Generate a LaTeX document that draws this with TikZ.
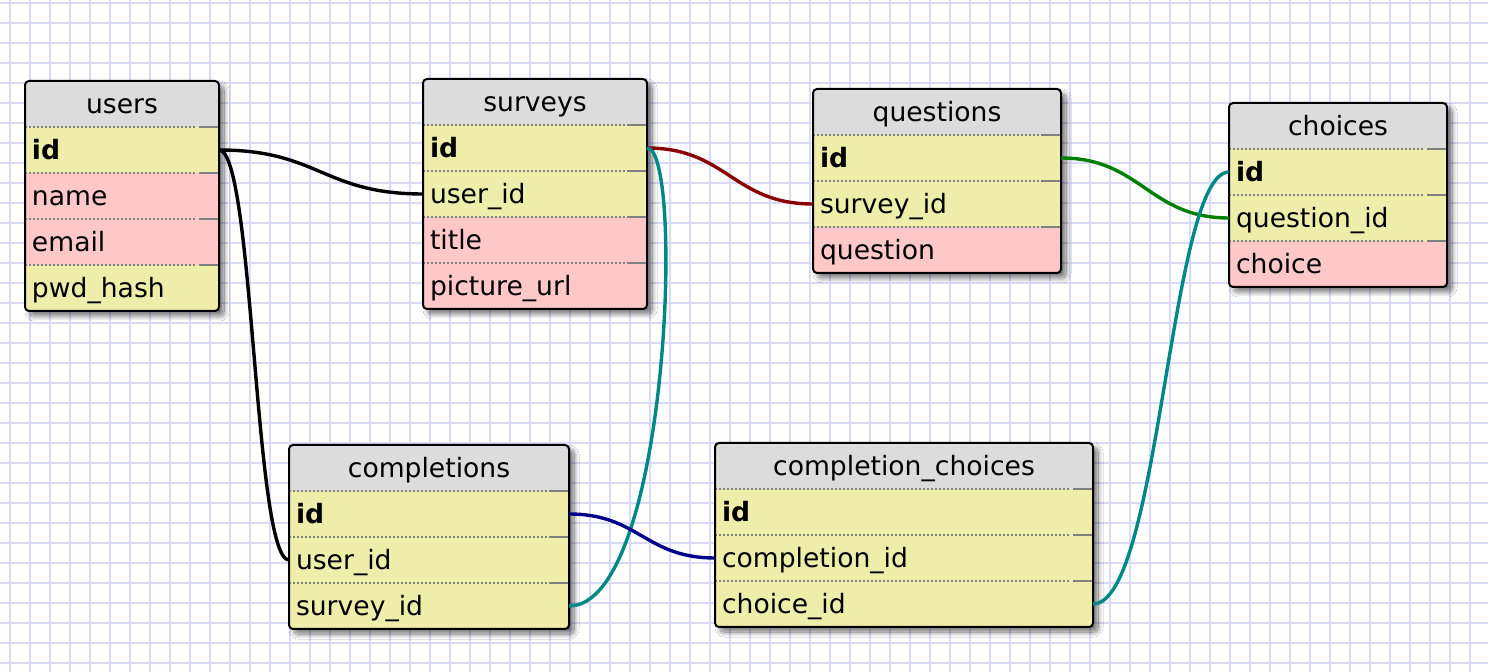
\documentclass[tikz,border=0pt]{standalone}
\usepackage{fontspec}
\setmainfont{DejaVu Sans}
\usetikzlibrary{shadows.blur}
\definecolor{gridc}{RGB}{218,218,245}
\definecolor{hdrc}{RGB}{220,220,220}
\definecolor{keyc}{RGB}{238,238,170}
\definecolor{valc}{RGB}{255,200,200}
\definecolor{sepc}{RGB}{128,128,128}
\definecolor{tealc}{RGB}{0,136,136}
\definecolor{redc}{RGB}{139,0,0}
\definecolor{greenc}{RGB}{0,128,0}
\definecolor{navyc}{RGB}{0,0,139}
\tikzset{
  hdr/.style={anchor=north west, fill=hdrc, minimum height=23pt, inner sep=0pt, outer sep=0pt,
    font=\fontsize{13.3pt}{15pt}\selectfont, text height=9.6pt, text depth=0pt},
  fld/.style={anchor=north west, minimum height=23pt, inner xsep=3.5pt, inner ysep=0pt, outer sep=0pt,
    align=left, font=\fontsize{13.3pt}{15pt}\selectfont, text height=9.8pt, text depth=0pt},
  sepdot/.style={sepc, line width=0.8pt, dash pattern=on 1pt off 1pt},
  sepsolid/.style={sepc, line width=0.8pt},
  conn/.style={line width=1.7pt},
  gridline/.style={gridc, line width=0.7pt}
}
\newcommand\dbtable[7]{%
  \pgfmathsetmacro\dbbot{#3+46*(#5+1)}%
  \pgfmathsetmacro\dbright{#2+#4}%
  \pgfmathsetlengthmacro\dbw{#4*0.5pt}%
  \pgfmathsetlengthmacro\dbtw{#4*0.5pt-7pt}%
  \fill[white, rounded corners=2pt, blur shadow={shadow xshift=2.5pt, shadow yshift=-2.5pt, shadow blur radius=2.5pt, shadow blur steps=20, shadow opacity=55}] (#2,#3) rectangle (\dbright,\dbbot);
  \begin{scope}
    \clip[rounded corners=2pt] (#2,#3) rectangle (\dbright,\dbbot);
    \node[hdr, minimum width=\dbw] (#1) at (#2,#3) {#6};
    \foreach \fkey/\ftxt/\fcol [count=\i] in {#7} {
      \node[fld, fill=\fcol, text width=\dbtw] (#1-\fkey) at (#2,#3+46*\i) {\ftxt};
    }
    \foreach \i in {1,...,#5} {
      \draw[sepdot] (#2,#3+46*\i) -- (\dbright-22,#3+46*\i);
      \draw[sepsolid] (\dbright-20,#3+46*\i) -- (\dbright,#3+46*\i);
    }
  \end{scope}
  \draw[line width=1pt, rounded corners=2pt] (#2,#3) rectangle (\dbright,\dbbot);
}
\begin{document}
\begin{tikzpicture}[x=0.5pt,y=-0.5pt]
\useasboundingbox (0,0) rectangle (1488,672);
\fill[white] (0,0) rectangle (1488,672);
\foreach \gx in {10,30,...,1490} \draw[gridline] (\gx,0) -- (\gx,672);
\foreach \gy in {3,23,...,672} \draw[gridline] (0,\gy) -- (1488,\gy);

\dbtable{users}{25}{81}{194}{4}{users}{id/\textbf{id}/keyc, name/name/valc, email/email/valc, pwdhash/pwd\_hash/keyc}
\dbtable{surveys}{423}{79}{224}{4}{surveys}{id/\textbf{id}/keyc, userid/user\_id/keyc, title/title/valc, pictureurl/picture\_url/valc}
\dbtable{questions}{813}{89}{248}{3}{questions}{id/\textbf{id}/keyc, surveyid/survey\_id/keyc, question/question/valc}
\dbtable{choices}{1229}{103}{218}{3}{choices}{id/\textbf{id}/keyc, questionid/question\_id/keyc, choice/choice/valc}
\dbtable{completions}{289}{445}{280}{3}{completions}{id/\textbf{id}/keyc, userid/user\_id/keyc, surveyid/survey\_id/keyc}
\dbtable{compchoices}{715}{443}{378}{3}{completion\_choices}{id/\textbf{id}/keyc, completionid/completion\_id/keyc, choiceid/choice\_id/keyc}

\draw[conn, black] (users-id.east) .. controls +(100,0) and +(-100,0) .. (surveys-userid.west);
\draw[conn, black] (users-id.east) .. controls +(35,0) and +(-35,0) .. (completions-userid.west);
\draw[conn, redc] (surveys-id.east) .. controls +(80,0) and +(-80,0) .. (questions-surveyid.west);
\draw[conn, tealc] (surveys-id.east) .. controls +(38,0) and +(100,0) .. (completions-surveyid.east);
\draw[conn, greenc] (questions-id.east) .. controls +(80,0) and +(-80,0) .. (choices-questionid.west);
\draw[conn, tealc] (choices-id.west) .. controls +(-59,0) and +(67,0) .. (compchoices-choiceid.east);
\draw[conn, navyc] (completions-id.east) .. controls +(70,0) and +(-70,0) .. (compchoices-completionid.west);
\end{tikzpicture}
\end{document}
